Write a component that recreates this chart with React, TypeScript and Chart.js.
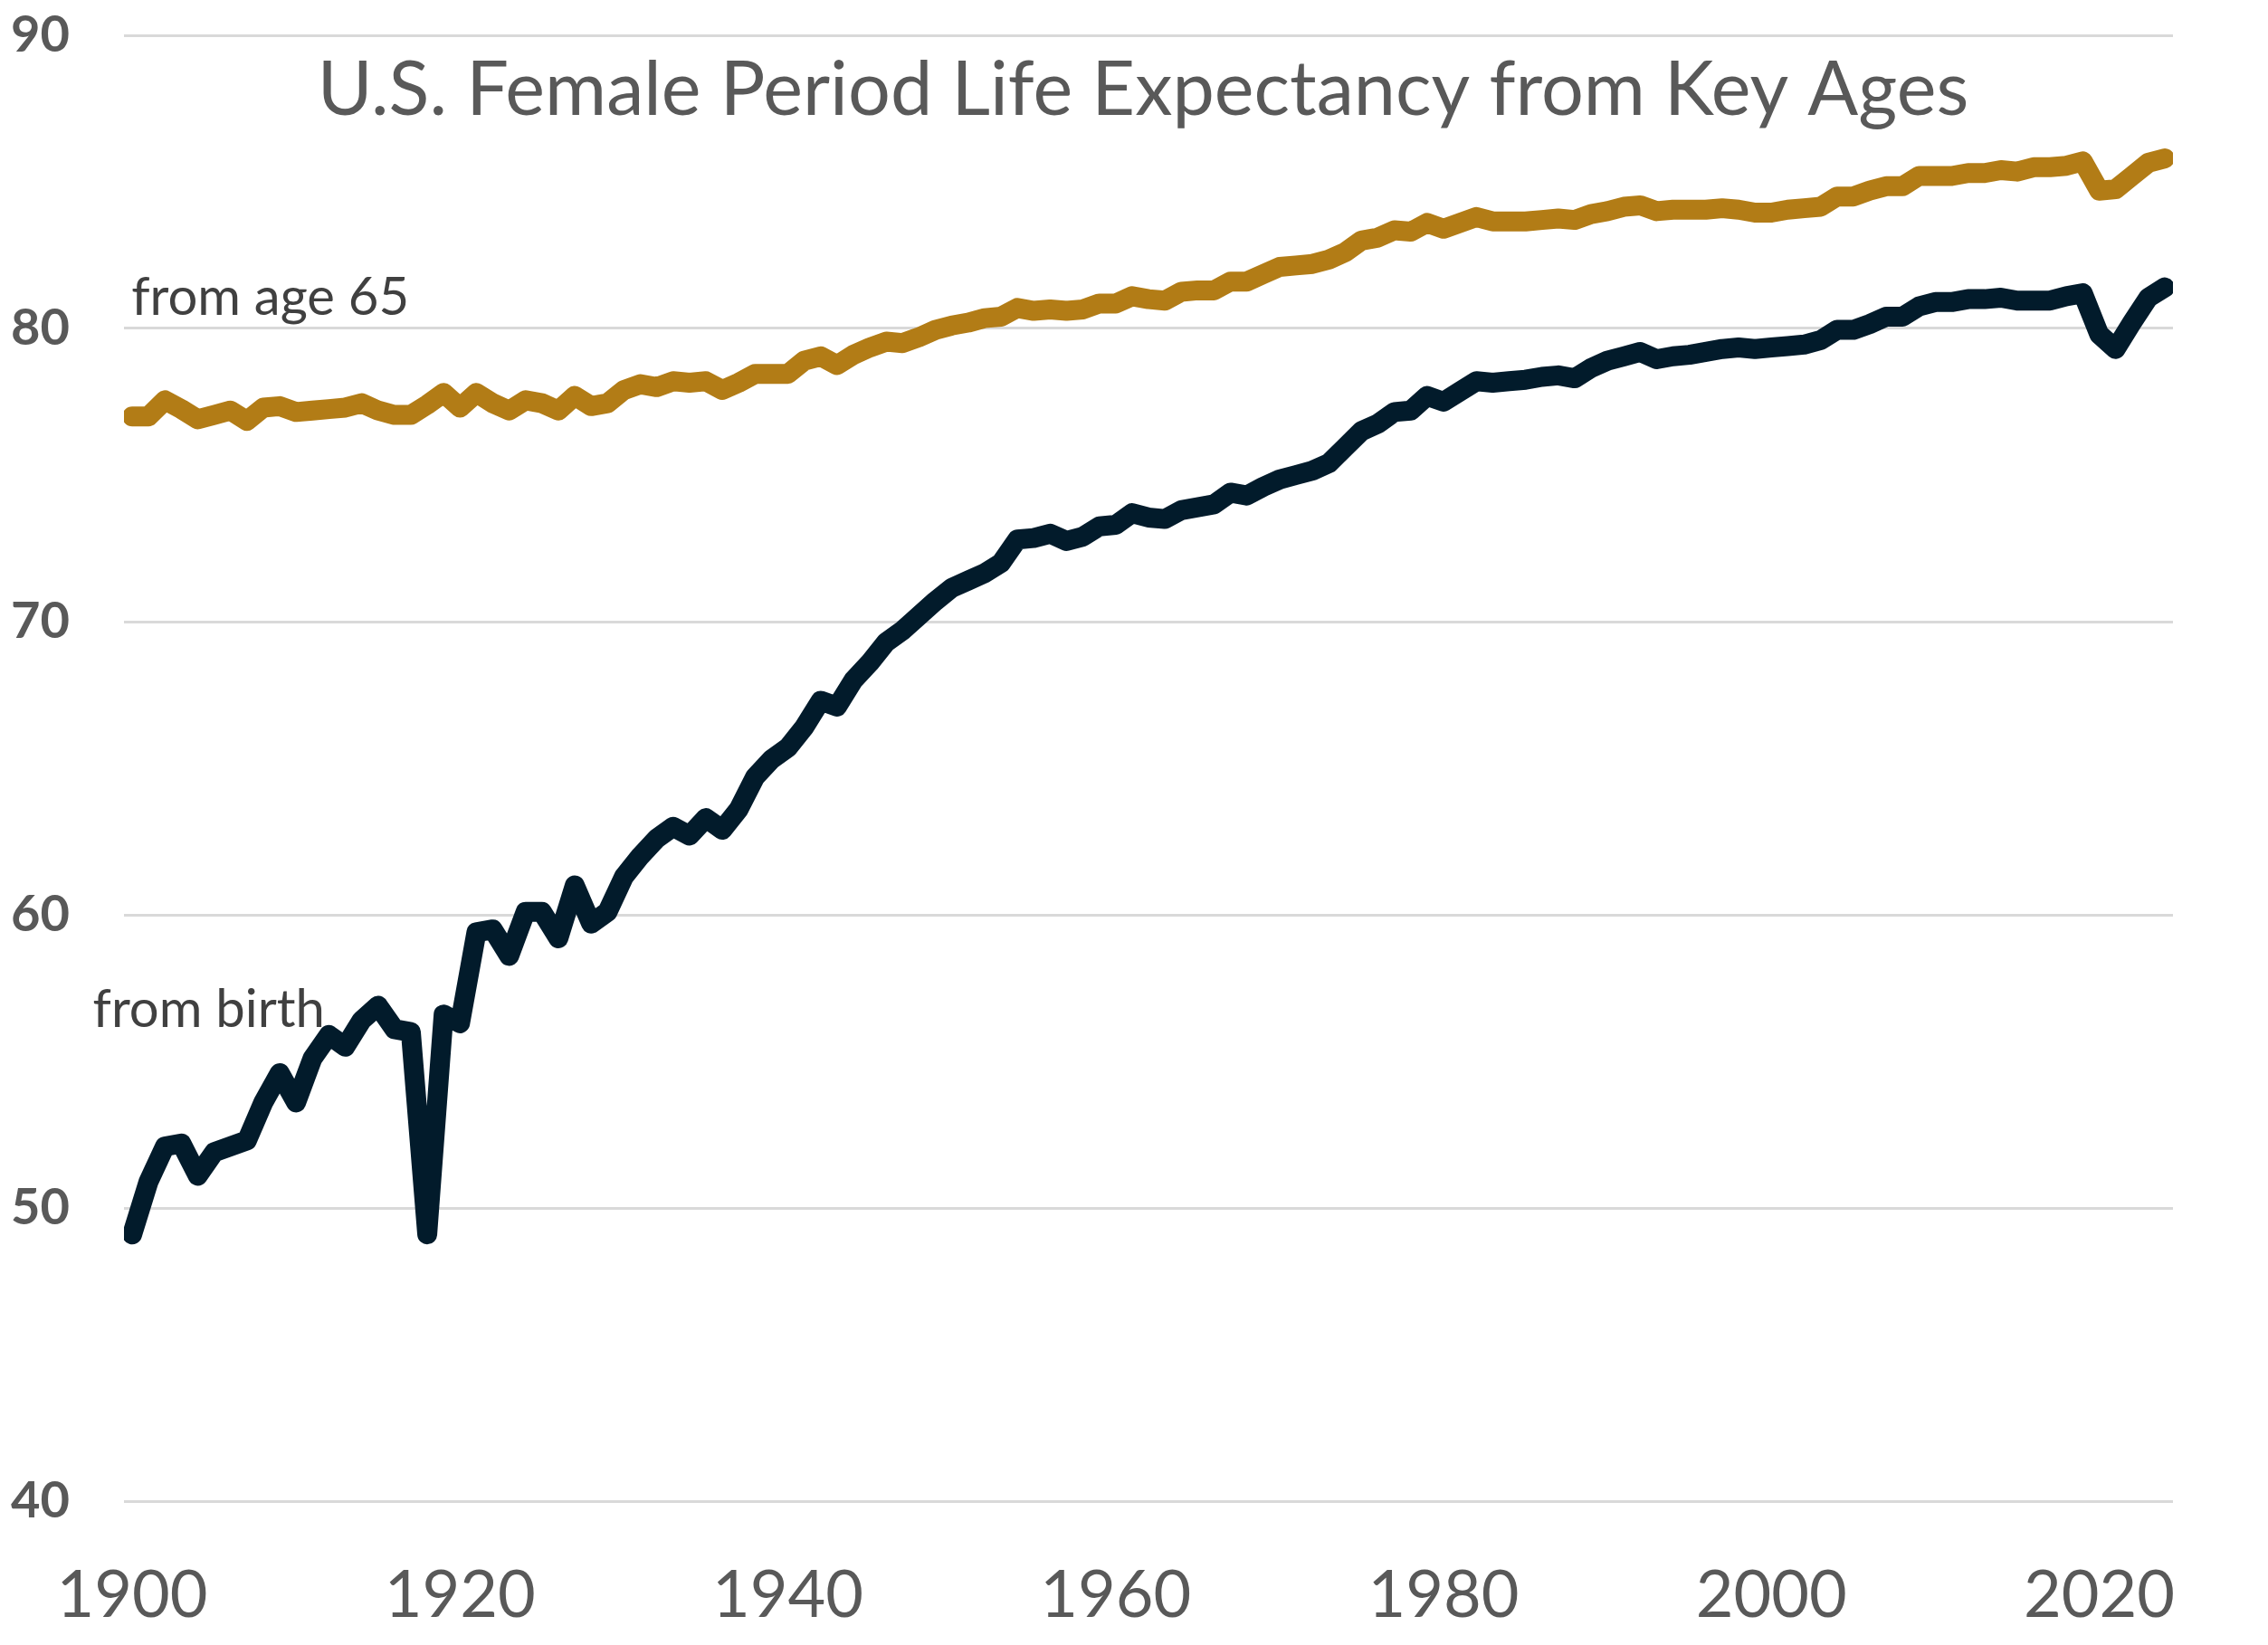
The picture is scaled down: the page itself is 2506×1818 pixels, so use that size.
import React, { useEffect, useRef } from 'react';
import { Chart, registerables } from 'chart.js';

Chart.register(...registerables);

const FIRST_YEAR = 1900;
const LAST_YEAR = 2024;

const FROM_BIRTH = [
  49.1, 50.9, 52.1, 52.2, 51.1, 51.9, 52.1, 52.3, 53.6, 54.6,
  53.6, 55.1, 55.9, 55.5, 56.4, 56.9, 56.1, 56.0, 49.1, 56.6,
  56.3, 59.4, 59.5, 58.6, 60.1, 60.1, 59.2, 61.0, 59.7, 60.1,
  61.3, 62.0, 62.6, 63.0, 62.7, 63.3, 62.9, 63.6, 64.7, 65.3,
  65.7, 66.4, 67.3, 67.1, 68.0, 68.6, 69.3, 69.7, 70.2, 70.7,
  71.15, 71.4, 71.65, 72.0, 72.8, 72.85, 73.0, 72.75, 72.9, 73.25,
  73.3, 73.7, 73.55, 73.5, 73.8, 73.9, 74.0, 74.4, 74.3, 74.6,
  74.85, 75.0, 75.15, 75.4, 75.95, 76.5, 76.75, 77.15, 77.2, 77.7,
  77.5, 77.85, 78.2, 78.15, 78.2, 78.25, 78.35, 78.4, 78.3, 78.65,
  78.9, 79.05, 79.2, 78.95, 79.05, 79.1, 79.2, 79.3, 79.35, 79.3,
  79.35, 79.4, 79.45, 79.6, 79.95, 79.95, 80.15, 80.4, 80.4, 80.75,
  80.9, 80.9, 81.0, 81.0, 81.05, 80.95, 80.95, 80.95, 81.1, 81.2,
  79.8, 79.3, 80.2, 81.05, 81.4,
];

const FROM_AGE_65 = [
  77.0, 77.0, 77.55, 77.25, 76.9, 77.05, 77.2, 76.85, 77.3, 77.35,
  77.15, 77.2, 77.25, 77.3, 77.45, 77.2, 77.05, 77.05, 77.4, 77.8,
  77.3, 77.8, 77.45, 77.2, 77.55, 77.45, 77.2, 77.7, 77.35, 77.45,
  77.9, 78.1, 78.0, 78.2, 78.15, 78.2, 77.9, 78.15, 78.45, 78.45,
  78.45, 78.9, 79.05, 78.75, 79.1, 79.35, 79.55, 79.5, 79.7, 79.95,
  80.1, 80.2, 80.35, 80.4, 80.7, 80.6, 80.65, 80.6, 80.65, 80.85,
  80.85, 81.1, 81.0, 80.95, 81.25, 81.3, 81.3, 81.6, 81.6, 81.85,
  82.1, 82.15, 82.2, 82.35, 82.6, 83.0, 83.1, 83.35, 83.3, 83.6,
  83.4, 83.6, 83.8, 83.65, 83.65, 83.65, 83.7, 83.75, 83.7, 83.9,
  84.0, 84.15, 84.2, 84.0, 84.05, 84.05, 84.05, 84.1, 84.05, 83.95,
  83.95, 84.05, 84.1, 84.15, 84.5, 84.5, 84.7, 84.85, 84.85, 85.2,
  85.2, 85.2, 85.3, 85.3, 85.4, 85.35, 85.5, 85.5, 85.55, 85.7,
  84.7, 84.75, 85.2, 85.65, 85.8,
];

const YEARS: number[] = [];
for (let yr = FIRST_YEAR; yr <= LAST_YEAR; yr++) YEARS.push(yr);

const X_TICKS = [1900, 1920, 1940, 1960, 1980, 2000, 2020];
const Y_MIN = 40;
const Y_MAX = 90;
const Y_STEP = 10;

const TITLE = 'U.S. Female Period Life Expectancy from Key Ages';
const LABEL_AGE65 = 'from age 65';
const LABEL_BIRTH = 'from birth';

const COLOR_BIRTH = '#021b2b';
const COLOR_AGE65 = '#b27c16';
const FONT = 'Lato, "Open Sans", sans-serif';

const textPlugin = {
  id: 'chartTexts',
  afterDatasetsDraw(chart: any) {
    const { ctx, chartArea } = chart;
    const x = chart.scales.x;
    const y = chart.scales.y;
    ctx.save();
    // Title
    ctx.fillStyle = '#595959';
    ctx.textAlign = 'center';
    ctx.textBaseline = 'alphabetic';
    ctx.font = `100px ${FONT}`;
    const w = ctx.measureText(TITLE).width;
    const size = (100 * chartArea.width * 0.806) / w;
    ctx.font = `${size}px ${FONT}`;
    ctx.fillText(TITLE, (chartArea.left + chartArea.right) / 2 - 6, y.getPixelForValue(87.28));
    // Annotations
    ctx.fillStyle = '#404040';
    ctx.textAlign = 'left';
    ctx.font = `58px ${FONT}`;
    ctx.fillText(LABEL_AGE65, x.getPixelForValue(1899.95), y.getPixelForValue(80.46));
    ctx.fillText(LABEL_BIRTH, x.getPixelForValue(1897.6), y.getPixelForValue(56.17));
    ctx.restore();
  },
};

export default function App() {
  const ref = useRef<HTMLCanvasElement | null>(null);

  useEffect(() => {
    document.body.style.margin = '0';
    document.body.style.background = '#ffffff';
    const canvas = ref.current;
    if (!canvas) return;
    const chart = new Chart(canvas, {
      type: 'line',
      data: {
        datasets: [
          {
            label: LABEL_BIRTH,
            data: YEARS.map((yr, i) => ({ x: yr, y: FROM_BIRTH[i] })),
            borderColor: COLOR_BIRTH,
            backgroundColor: COLOR_BIRTH,
            borderWidth: 22,
            pointRadius: 0,
            tension: 0,
            borderCapStyle: 'round',
            borderJoinStyle: 'round',
          },
          {
            label: LABEL_AGE65,
            data: YEARS.map((yr, i) => ({ x: yr, y: FROM_AGE_65[i] })),
            borderColor: COLOR_AGE65,
            backgroundColor: COLOR_AGE65,
            borderWidth: 22,
            pointRadius: 0,
            tension: 0,
            borderCapStyle: 'round',
            borderJoinStyle: 'round',
          },
        ],
      },
      options: {
        animation: false,
        responsive: false,
        devicePixelRatio: 1,
        layout: { padding: { top: 39, right: 105, left: 8, bottom: 0 } },
        plugins: {
          legend: { display: false },
          tooltip: { enabled: false },
          title: { display: false },
        },
        scales: {
          x: {
            type: 'linear',
            min: FIRST_YEAR - 0.5,
            max: LAST_YEAR + 0.5,
            afterBuildTicks: (s: any) => {
              s.ticks = X_TICKS.map((v) => ({ value: v }));
            },
            afterFit: (s: any) => {
              s.height = 159;
            },
            grid: { display: false, drawTicks: false },
            border: { display: false },
            ticks: {
              autoSkip: false,
              maxRotation: 0,
              padding: 62,
              color: '#595959',
              font: { family: FONT, size: 72 },
              callback: (v: any) => String(v),
            },
          },
          y: {
            min: Y_MIN,
            max: Y_MAX,
            afterFit: (s: any) => {
              s.width = 125;
            },
            grid: { color: '#d9d9d9', lineWidth: 3, drawTicks: false },
            border: { display: false },
            ticks: {
              stepSize: Y_STEP,
              padding: 0,
              crossAlign: 'far',
              color: '#595959',
              font: { family: FONT, size: 56, weight: 'bold' },
            },
          },
        },
      },
      plugins: [textPlugin],
    } as any);
    return () => chart.destroy();
  }, []);

  return (
    <div style={{ width: 2506, height: 1818, background: '#ffffff' }}>
      <canvas ref={ref} width={2506} height={1818} style={{ display: 'block' }} />
    </div>
  );
}
